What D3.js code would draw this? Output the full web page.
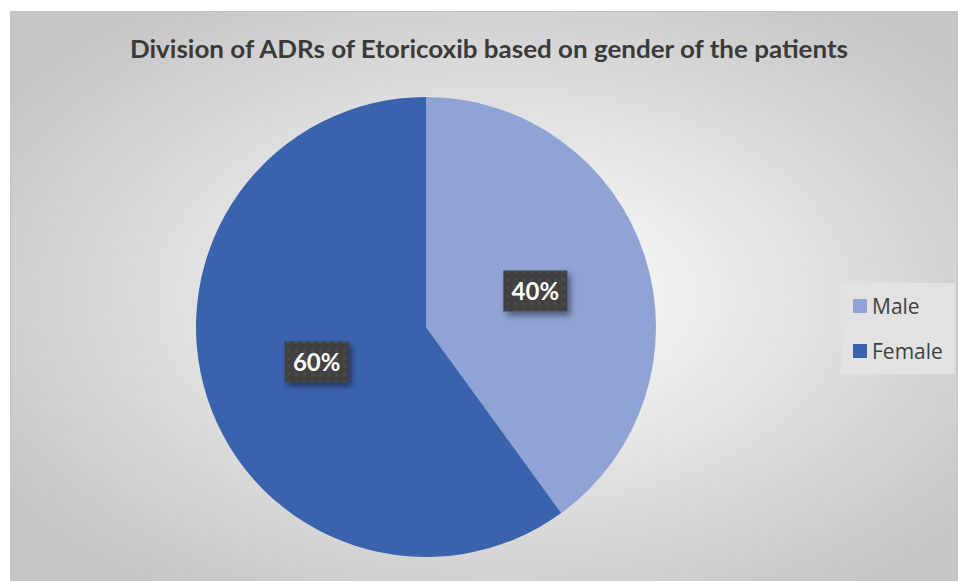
<!DOCTYPE html>
<html>
<head>
<meta charset="utf-8">
<script src="https://cdn.jsdelivr.net/npm/d3@7"></script>
<style>
  body { margin: 0; background: #fff; }
  svg { display: block; }
</style>
</head>
<body>
<div id="graphic"></div>
<script>
// chart data
const categories = ["Male", "Female"];
const values = [40, 60];
const labels = ["40%", "60%"];
const colors = ["#8FA3D5", "#3A63AE"];
const title = "Division of ADRs of Etoricoxib based on gender of the patients";

const width = 958, height = 581;
const svg = d3.select("#graphic").append("svg")
    .attr("width", width)
    .attr("height", height);

const defs = svg.append("defs");

// background gradient
const bg = defs.append("radialGradient")
    .attr("id", "bg")
    .attr("cx", "52%").attr("cy", "50%").attr("r", "62%");
bg.append("stop").attr("offset", "0%").attr("stop-color", "#ffffff");
bg.append("stop").attr("offset", "100%").attr("stop-color", "#c6c6c6");

// dotted texture for label boxes
const pat = defs.append("pattern")
    .attr("id", "dots")
    .attr("width", 8).attr("height", 8)
    .attr("patternUnits", "userSpaceOnUse");
pat.append("rect").attr("width", 8).attr("height", 8).attr("fill", "#404040");
pat.append("circle").attr("cx", 4).attr("cy", 4).attr("r", 2).attr("fill", "#4a4a4a");

const shadow = defs.append("filter").attr("id", "shadow")
    .attr("x", "-30%").attr("y", "-30%").attr("width", "160%").attr("height", "170%");
shadow.append("feDropShadow")
    .attr("dx", 3).attr("dy", 4).attr("stdDeviation", 3)
    .attr("flood-color", "#000").attr("flood-opacity", 0.45);

svg.append("rect")
    .attr("x", 10.5).attr("y", 11.5)
    .attr("width", width - 11).attr("height", height - 11)
    .attr("fill", "url(#bg)")
    .attr("stroke", "#c4c4c4");

// title
svg.append("text")
    .attr("x", 489).attr("y", 58)
    .attr("text-anchor", "middle")
    .attr("font-family", "Lato, 'Open Sans', sans-serif")
    .attr("font-weight", "bold")
    .attr("font-size", 25)
    .attr("fill", "#3a3a3a")
    .attr("textLength", 718)
    .attr("lengthAdjust", "spacingAndGlyphs")
    .text(title);

// pie
const cx = 426, cy = 327, radius = 230;
const data = categories.map((c, i) => ({cat: c, value: values[i], label: labels[i], color: colors[i]}));
const pie = d3.pie().sort(null).value(d => d.value);
const arc = d3.arc().innerRadius(0).outerRadius(radius);
const arcs = pie(data);

const g = svg.append("g").attr("transform", "translate(" + cx + "," + cy + ")");
g.selectAll("path.slice")
    .data(arcs)
    .enter().append("path")
    .attr("class", "slice")
    .attr("d", arc)
    .attr("fill", d => d.data.color);

// data labels
const labelArc = d3.arc().innerRadius(radius * 0.5).outerRadius(radius * 0.5);
const lab = g.selectAll("g.lab")
    .data(arcs)
    .enter().append("g")
    .attr("class", "lab")
    .attr("transform", d => {
        const c = labelArc.centroid(d);
        return "translate(" + c[0] + "," + c[1] + ")";
    });
lab.append("rect")
    .attr("x", -32).attr("y", -21)
    .attr("width", 64).attr("height", 41)
    .attr("fill", "url(#dots)")
    .attr("filter", "url(#shadow)");
lab.append("text")
    .attr("text-anchor", "middle")
    .attr("dy", "0.36em")
    .attr("font-family", "Lato, 'Open Sans', sans-serif")
    .attr("font-weight", "bold")
    .attr("font-size", 24)
    .attr("fill", "#ffffff")
    .text(d => d.data.label);

// legend
const legend = svg.append("g").attr("transform", "translate(841,283)");
legend.append("rect")
    .attr("width", 114).attr("height", 91)
    .attr("fill", "#e2e2e2");
const ly = d3.scalePoint().domain(categories).range([23, 68]);
legend.selectAll("rect.sw")
    .data(data)
    .enter().append("rect")
    .attr("class", "sw")
    .attr("x", 12).attr("y", d => ly(d.cat) - 7)
    .attr("width", 14).attr("height", 14)
    .attr("fill", d => d.color);
legend.selectAll("text.lt")
    .data(data)
    .enter().append("text")
    .attr("class", "lt")
    .attr("x", 31).attr("y", d => ly(d.cat))
    .attr("dy", "0.36em")
    .attr("font-family", "'Open Sans', sans-serif")
    .attr("font-size", 21)
    .attr("fill", "#404040")
    .text(d => d.cat);
</script>
</body>
</html>
